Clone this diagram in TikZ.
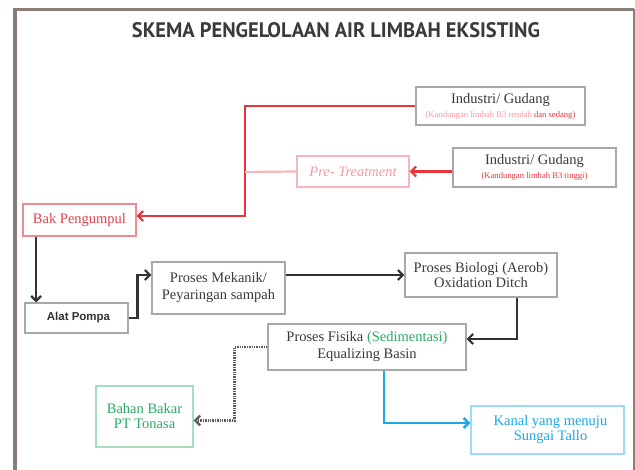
\documentclass[tikz,border=0pt]{standalone}
\usepackage{graphicx}
\usepackage{fontspec}
\setmainfont{Liberation Serif}
\newfontfamily\sansf{Liberation Sans}
\newfontfamily\titlef{PT Sans}
\usetikzlibrary{arrows.meta,calc}
\definecolor{framec}{HTML}{8C7C78}
\definecolor{boxgray}{HTML}{A8A8A8}
\definecolor{txt}{HTML}{3A3A3A}
\definecolor{lred}{HTML}{E8343C}
\definecolor{pinkt}{HTML}{F29CA4}
\definecolor{pinkb}{HTML}{F7B6BC}
\definecolor{bakb}{HTML}{F08A92}
\definecolor{bakt}{HTML}{E4404A}
\definecolor{grn}{HTML}{2DAA66}
\definecolor{lgrn}{HTML}{A6DEC0}
\definecolor{blu}{HTML}{1AA8EA}
\definecolor{lblu}{HTML}{9ADCF5}
\definecolor{linec}{HTML}{333333}
\begin{document}
\begin{tikzpicture}[x=1pt,y=-1pt,
  box/.style={draw=boxgray, line width=1.1pt, rectangle, inner sep=0pt, align=center, text=txt, font=\fontsize{14.5}{17}\selectfont},
  conn/.style={line width=2.2pt, color=linec},
  tip/.style={-{Straight Barb[length=5pt,width=10pt]}}]
\useasboundingbox (0,0) rectangle (635,470);
\fill[white] (0,0) rectangle (635,470);
\draw[framec, line width=3.5pt] (15,472) -- (15,9.5) -- (634,9.5);
\draw[framec, line width=2pt] (634,9.5) -- (634,472);

\node[text=txt] (title) at (336,30.5) {\resizebox{408pt}{15pt}{\titlef\bfseries SKEMA PENGELOLAAN AIR LIMBAH EKSISTING}};

\node[box, minimum width=169pt, minimum height=38pt] (ind1) at (500.5,106)
  {Industri/ Gudang\\[-3pt]{\fontsize{8.6}{10}\selectfont\color{pinkt}(Kandungan limbah B3 rendah \color{lred}dan sedang)}};
\node[box, minimum width=163pt, minimum height=39pt] (ind2) at (534.5,167.5)
  {Industri/ Gudang\\[-3pt]{\fontsize{8.6}{10}\selectfont\color{lred}(Kandungan limbah B3 tinggi)}};
\node[box, draw=pinkb, text=pinkt, minimum width=112pt, minimum height=31pt] (pre) at (353,171.5)
  {\itshape Pre- Treatment};
\node[box, draw=bakb, text=bakt, minimum width=113pt, minimum height=32pt] (bak) at (79.5,220)
  {Bak Pengumpul};
\node[box, text=linec, minimum width=103pt, minimum height=30pt, font=\sansf\bfseries\fontsize{11.5}{13}\selectfont] (pompa) at (76.5,318)
  {\hspace*{4pt}Alat Pompa};
\node[box, minimum width=133pt, minimum height=52pt] (mek) at (218.5,288)
  {Proses Mekanik/\\Peyaringan sampah};
\node[box, minimum width=152pt, minimum height=44pt, font=\fontsize{14.5}{15}\selectfont] (bio) at (481,275)
  {Proses Biologi (Aerob)\\Oxidation Ditch};
\node[box, minimum width=198pt, minimum height=46pt] (fis) at (367,347)
  {Proses Fisika {\color{grn}(Sedimentasi)}\\Equalizing Basin};
\node[box, draw=lgrn, text=grn, minimum width=97pt, minimum height=61pt, font=\fontsize{14.5}{15}\selectfont] (bahan) at (144.5,416.5)
  {Bahan Bakar\\PT Tonasa};
\node[box, draw=lblu, text=blu, minimum width=153pt, minimum height=48pt, font=\fontsize{14.5}{15}\selectfont] (kanal) at (547.5,430)
  {\hspace*{6pt}Kanal yang menuju\\\hspace*{6pt}Sungai Tallo};

\coordinate (jR) at (245,172);
\draw[conn, color=lred, tip] (ind1.west) -| (jR) |- ($(bak.east)+(0,-4)$);
\draw[conn, color=lred, tip] (ind2.west |- pre.east) -- (pre.east);
\draw[conn, color=pinkb] (pre.west) -- (jR);

\draw[conn, tip] ($(bak.south west)!0.12!(bak.south east)$) coordinate (s1) -- (s1 |- pompa.north);
\draw[conn, tip] (pompa.east) -- ++(9,0) |- ($(mek.west)+(0,-13)$);
\draw[conn, tip] (mek.east |- bio.west) -- (bio.west);
\draw[conn, tip] ($(bio.south)+(36,0)$) |- ($(fis.east)+(0,-8)$);
\draw[conn, color=linec!80, line width=2.4pt, dash pattern=on 1.4pt off 1pt, tip] (fis.west) -- ++(-33,0) |- ($(bahan.east)+(0,4)$);
\draw[conn, color=blu, line width=2.6pt, tip] ($(fis.south)+(17,0)$) |- ($(kanal.west)+(0,-7)$);
\end{tikzpicture}
\end{document}
